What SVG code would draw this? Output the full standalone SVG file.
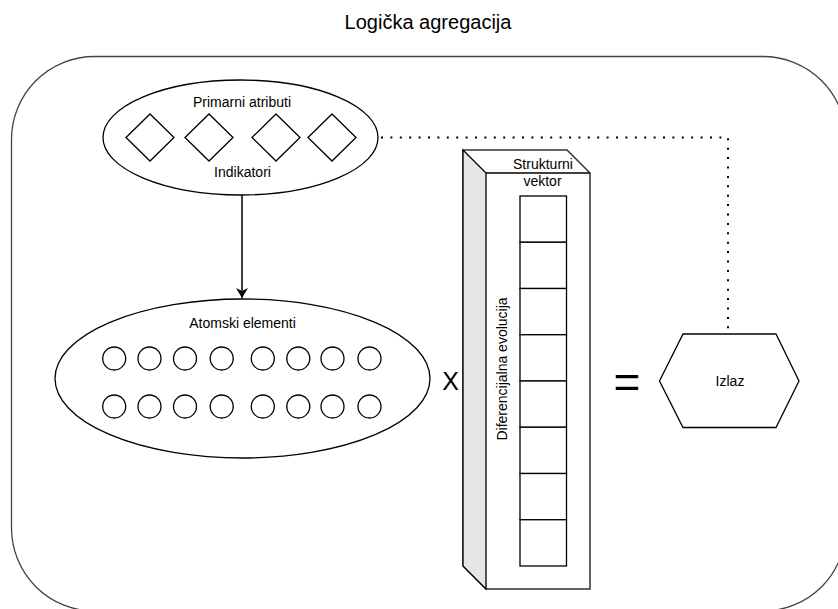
<svg xmlns="http://www.w3.org/2000/svg" width="838" height="609" viewBox="0 0 838 609">
  <style>
    .t { font-family: "Liberation Sans", Arial, sans-serif; fill: #000; text-anchor: middle; }
    .lbl { font-size: 14px; }
    .sh { fill: #fff; stroke: #000; stroke-width: 1.3; }
    .cell { fill: #fff; stroke: #000; stroke-width: 1.3; }
  </style>
  <defs>
    <marker id="arr" markerWidth="12" markerHeight="12" viewBox="0 0 12 12" refX="10" refY="6" orient="auto" markerUnits="userSpaceOnUse">
      <path d="M0,0 L10,6 L0,12 L3,6 Z" fill="#000"/>
    </marker>
  </defs>
  <rect width="838" height="609" fill="#fff"/>
  <text class="t" x="428" y="29" font-size="20">Logička agregacija</text>

  <g id="container">
    <rect x="11.5" y="56.5" width="834.5" height="554.5" rx="83" ry="83" fill="#fff" stroke="#444" stroke-width="1.3"/>
  </g>

  <g id="connectors">
    <path d="M242,195 L242,298" fill="none" stroke="#000" stroke-width="1.5" marker-end="url(#arr)"/>
    <path d="M381,137.5 L728,137.5 L728,334" fill="none" stroke="#000" stroke-width="2" stroke-dasharray="2 7.4"/>
  </g>

  <g id="primarni-atributi">
    <ellipse class="sh" cx="240.5" cy="137.5" rx="137.5" ry="57.5"/>
    <text class="t lbl" x="242" y="107">Primarni atributi</text>
    <text class="t lbl" x="242.5" y="176.5">Indikatori</text>
    <g fill="#fff" stroke="#000" stroke-width="1.3">
      <path d="M126,137.5 L150,114 L174,137.5 L150,161 Z"/>
      <path d="M185,137.5 L209,114 L233,137.5 L209,161 Z"/>
      <path d="M252,137.5 L276,114 L300,137.5 L276,161 Z"/>
      <path d="M308,137.5 L332,114 L356,137.5 L332,161 Z"/>
    </g>
  </g>

  <g id="atomski-elementi">
    <ellipse class="sh" cx="242.5" cy="378.5" rx="187.5" ry="79.5"/>
    <text class="t lbl" x="242.5" y="327.5">Atomski elementi</text>
    <g fill="#fff" stroke="#000" stroke-width="1.3">
      <circle cx="114.2" cy="358.5" r="11.5"/>
      <circle cx="149.5" cy="358.5" r="11.5"/>
      <circle cx="185" cy="358.5" r="11.5"/>
      <circle cx="221.7" cy="358.5" r="11.5"/>
      <circle cx="262.8" cy="358.5" r="11.5"/>
      <circle cx="298.3" cy="358.5" r="11.5"/>
      <circle cx="332.5" cy="358.5" r="11.5"/>
      <circle cx="369.5" cy="358.5" r="11.5"/>
      <circle cx="114.2" cy="406.5" r="11.5"/>
      <circle cx="149.5" cy="406.5" r="11.5"/>
      <circle cx="185" cy="406.5" r="11.5"/>
      <circle cx="221.7" cy="406.5" r="11.5"/>
      <circle cx="262.8" cy="406.5" r="11.5"/>
      <circle cx="298.3" cy="406.5" r="11.5"/>
      <circle cx="332.5" cy="406.5" r="11.5"/>
      <circle cx="369.5" cy="406.5" r="11.5"/>
    </g>
  </g>

  <g id="puta">
    <text class="t" x="450.5" y="390" font-size="25">X</text>
  </g>

  <g id="strukturni-vektor">
    <path d="M463,150 L567,150 L590,173 L590,589 L486,589 L463,566 Z" fill="#fff" stroke="#333" stroke-width="1.5"/>
    <path d="M463,150 L486,173 L486,589 L463,566 Z" fill="#e6e6e6" stroke="#000" stroke-width="1.3"/>
    <path d="M486,173 L590,173" fill="none" stroke="#000" stroke-width="1.3"/>
    <text class="t lbl" x="543" y="168.5">Strukturni</text>
    <text class="t lbl" x="542.5" y="186">vektor</text>
    <text class="t lbl" transform="translate(507,369) rotate(-90)" x="0" y="0">Diferencijalna evolucija</text>
    <rect class="cell" x="520" y="196" width="46.5" height="46.25"/>
    <rect class="cell" x="520" y="242.25" width="46.5" height="46.25"/>
    <rect class="cell" x="520" y="288.5" width="46.5" height="46.25"/>
    <rect class="cell" x="520" y="334.75" width="46.5" height="46.25"/>
    <rect class="cell" x="520" y="381" width="46.5" height="46.25"/>
    <rect class="cell" x="520" y="427.25" width="46.5" height="46.25"/>
    <rect class="cell" x="520" y="473.5" width="46.5" height="46.25"/>
    <rect class="cell" x="520" y="519.75" width="46.5" height="46.25"/>
  </g>

  <g id="jednako">
    <text class="t" x="627" y="398" font-size="46">=</text>
  </g>

  <g id="izlaz">
    <path class="sh" d="M659.5,381 L683,334 L776,334 L799,381 L776,427.5 L683,427.5 Z" stroke="#333"/>
    <text class="t lbl" x="730" y="385.5">Izlaz</text>
  </g>
</svg>
